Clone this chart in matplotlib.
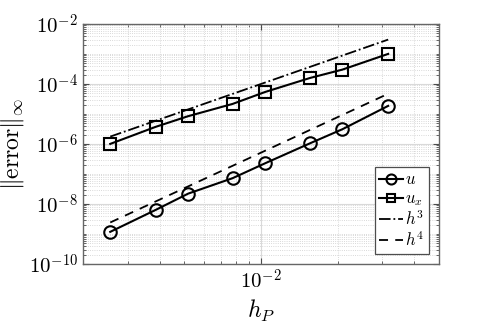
import numpy as np
import matplotlib
matplotlib.use("Agg")
import matplotlib.pyplot as plt
from matplotlib.ticker import LogLocator, NullFormatter

plt.rcParams["mathtext.fontset"] = "cm"
plt.rcParams["font.family"] = "serif"
plt.rcParams["font.serif"] = ["DejaVu Serif"]

# grid spacing and errors
h = [2.56e-3, 3.86e-3, 5.18e-3, 7.74e-3, 1.04e-2, 1.56e-2, 2.09e-2, 3.16e-2]
err_u = [1.17e-9, 6.3e-9, 2.2e-8, 7.2e-8, 2.27e-7, 1.05e-6, 3.09e-6, 1.85e-5]
err_ux = [1.0e-6, 3.7e-6, 8.4e-6, 2.15e-5, 5.4e-5, 1.58e-4, 3.0e-4, 1.0e-3]

# reference slopes, end points only
h_ref = [2.56e-3, 3.16e-2]
ref3 = [1.75e-6, 3.0e-3]
ref4 = [2.4e-9, 4.7e-5]

fig = plt.figure(figsize=(4.85, 3.23), dpi=100)
ax = fig.add_axes([0.171, 0.183, 0.734, 0.743])

ax.loglog(h, err_u, "k-o", lw=1.5, ms=9, mfc="none", mew=1.5, label="$u$")
ax.loglog(h, err_ux, "k-s", lw=1.5, ms=8, mfc="none", mew=1.5, label="$u_x$")
ax.loglog(h_ref, ref3, "k-.", lw=1.3, label="$h^3$")
ax.loglog(h_ref, ref4, "k--", lw=1.3, dashes=(5, 4), label="$h^4$")

ax.set_xlim(2e-3, 5e-2)
ax.set_ylim(1e-10, 1e-2)

ax.set_yticks([1e-10, 1e-8, 1e-6, 1e-4, 1e-2])
ax.set_yticklabels(["$10^{-10}$", "$10^{-8}$", "$10^{-6}$", "$10^{-4}$", "$10^{-2}$"])
ax.yaxis.set_minor_locator(LogLocator(base=10, subs=np.arange(1, 10), numticks=20))
ax.yaxis.set_minor_formatter(NullFormatter())
ax.set_xticks([1e-2])
ax.set_xticklabels(["$10^{-2}$"])
ax.xaxis.set_minor_locator(LogLocator(base=10, subs=np.arange(1, 10), numticks=20))
ax.xaxis.set_minor_formatter(NullFormatter())

ax.tick_params(which="both", direction="in", top=True, right=True, color="0.3",
               labelsize=15)
ax.tick_params(which="major", length=4)
ax.tick_params(which="minor", length=2.5)
for s in ax.spines.values():
    s.set_color("0.4")
    s.set_linewidth(1.0)

ax.grid(True, which="major", color="0.85", lw=0.8)
ax.grid(True, which="minor", color="0.8", lw=0.6, ls=":")
ax.set_axisbelow(True)

ax.set_xlabel("$h_P$", fontsize=17)
ax.set_ylabel(r"$\|\mathrm{error}\|_\infty$", fontsize=17, labelpad=2)

leg = ax.legend(loc="lower right", fontsize=12, handlelength=1.45, fancybox=False,
                framealpha=1, edgecolor="0.3", borderaxespad=0.6,
                labelspacing=0.12, handletextpad=0.15, borderpad=0.25,
                markerscale=0.8)
leg.get_frame().set_linewidth(0.9)

fig.savefig("out.png", dpi=100)
